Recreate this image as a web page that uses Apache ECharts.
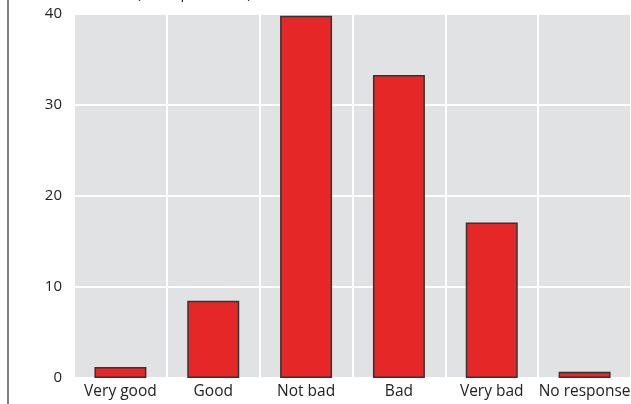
<!DOCTYPE html>
<html>
<head>
<meta charset="utf-8">
<script src="https://cdn.jsdelivr.net/npm/echarts@6/dist/echarts.min.js"></script>
<style>html,body{margin:0;padding:0;background:#fff;}#c{width:631px;height:404px;}</style>
</head>
<body>
<div id="c"></div>
<script>
const categories = ['Very good', 'Good', 'Not bad', 'Bad', 'Very bad', 'No response'];
const values = [1.2, 8.5, 39.8, 33.3, 17.1, 0.7];
const yTicks = [0, 10, 20, 30, 40];
const unitLabel = 'Per cent (of respondents)';

const chart = echarts.init(document.getElementById('c'), null, {renderer: 'canvas'});
const font = '"Open Sans", "Liberation Sans", sans-serif';
chart.setOption({
  animation: false,
  grid: {left: 74, right: 0, top: 14, bottom: 26, show: true, backgroundColor: '#e1e2e4', borderWidth: 0, outerBoundsMode: 'none', containLabel: false},
  xAxis: {
    type: 'category', data: categories, boundaryGap: true,
    axisLine: {show: false}, axisTick: {show: false},
    axisLabel: {color: '#222', fontSize: 15.5, fontFamily: font, margin: 6, interval: 0},
    splitLine: {show: true, interval: 0, lineStyle: {color: '#fff', width: 2}}
  },
  yAxis: {
    type: 'value', min: yTicks[0], max: yTicks[yTicks.length - 1], interval: 10,
    axisLine: {show: false}, axisTick: {show: false},
    axisLabel: {color: '#222', fontSize: 15, fontFamily: font, margin: 12},
    splitLine: {show: true, lineStyle: {color: '#fff', width: 2}}
  },
  graphic: [
    {type: 'line', shape: {x1: 8, y1: 0, x2: 8, y2: 404}, style: {stroke: '#555', lineWidth: 1.5}},
    {type: 'text', left: 75, top: -14, style: {text: unitLabel, fill: '#222', font: '15px ' + font}}
  ],
  series: [{
    type: 'bar', data: values, barWidth: '56%',
    itemStyle: {color: '#e62727', borderColor: '#333', borderWidth: 1.5}
  }]
});
</script>
</body>
</html>
